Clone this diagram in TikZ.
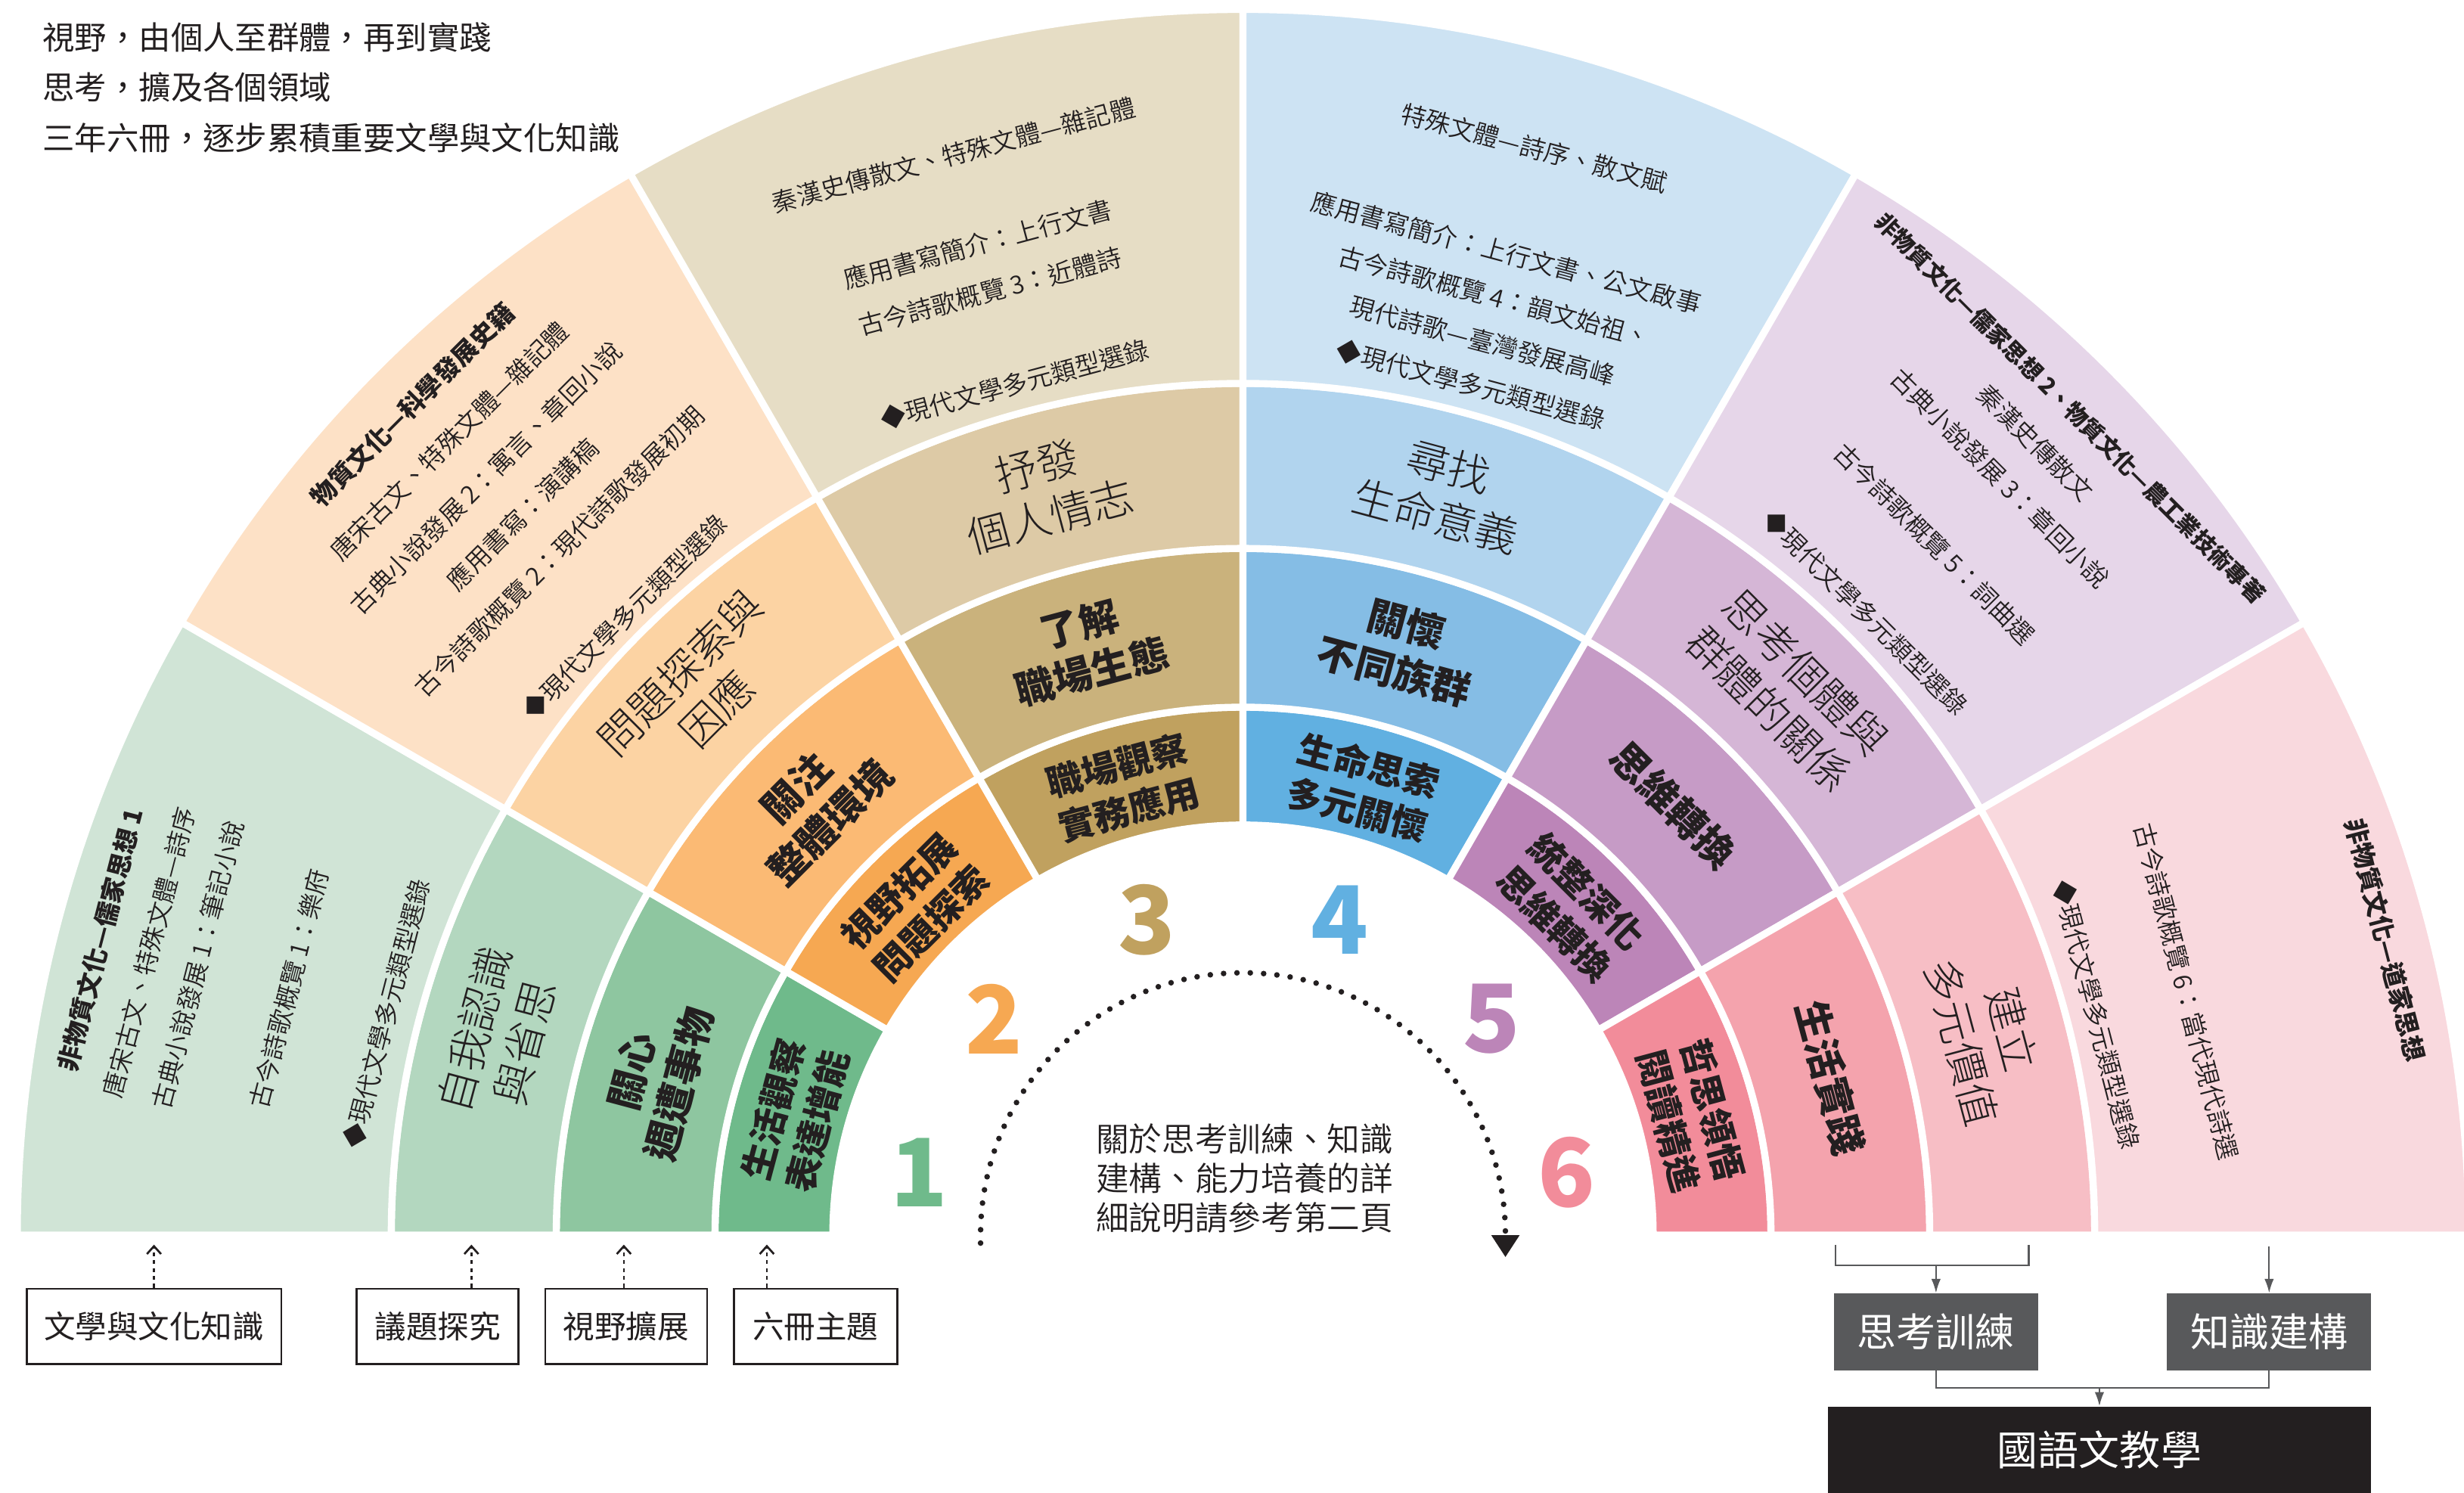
\documentclass[tikz,border=0pt]{standalone}
\usepackage{fontspec}
\setmainfont{Noto Sans CJK TC}
\newfontfamily\lightfont{Noto Sans CJK TC Light}
\newfontfamily\demifont{Noto Sans CJK TC DemiLight}
\usetikzlibrary{arrows.meta}

\definecolor{ink}{HTML}{231F20}
\definecolor{boxgray}{HTML}{58595B}
\definecolor{s1-0}{HTML}{6FBA8B}
\definecolor{s1-1}{HTML}{8EC6A0}
\definecolor{s1-2}{HTML}{B3D7BF}
\definecolor{s1-3}{HTML}{D0E4D6}
\definecolor{s2-0}{HTML}{F6A852}
\definecolor{s2-1}{HTML}{FBBA74}
\definecolor{s2-2}{HTML}{FCD3A3}
\definecolor{s2-3}{HTML}{FDE1C6}
\definecolor{s3-0}{HTML}{C0A15F}
\definecolor{s3-1}{HTML}{CAB27C}
\definecolor{s3-2}{HTML}{DDCAA6}
\definecolor{s3-3}{HTML}{E6DDC5}
\definecolor{s4-0}{HTML}{61B0E1}
\definecolor{s4-1}{HTML}{85BDE5}
\definecolor{s4-2}{HTML}{B1D4EE}
\definecolor{s4-3}{HTML}{CDE3F3}
\definecolor{s5-0}{HTML}{BC85B8}
\definecolor{s5-1}{HTML}{C69BC6}
\definecolor{s5-2}{HTML}{D5B6D6}
\definecolor{s5-3}{HTML}{E6D6E9}
\definecolor{s6-0}{HTML}{F28C9A}
\definecolor{s6-1}{HTML}{F4A3AD}
\definecolor{s6-2}{HTML}{F7BEC5}
\definecolor{s6-3}{HTML}{F9D9DE}

\tikzset{
  ring/.style={draw=white, line width=4.5pt, line join=round},
  core/.style={font=\bfseries\fontsize{23}{29}\selectfont, text=ink, align=center},
  focus/.style={font=\bfseries\fontsize{25}{31}\selectfont, text=ink, align=center},
  theme/.style={font=\lightfont\fontsize{27}{33}\selectfont, text=ink, align=center},
  topics/.style={font=\demifont\fontsize{16}{32}\selectfont, text=ink, align=center},
  numeral/.style={font=\bfseries\fontsize{60}{60}\selectfont},
  tagbox/.style={draw=ink, line width=1.2pt, minimum height=48pt, inner sep=0pt, text=ink, font=\fontsize{20}{20}\selectfont},
  darkbox/.style={fill=boxgray, minimum width=130pt, minimum height=49pt, inner sep=0pt, text=white, font=\fontsize{25}{25}\selectfont},
  feed/.style={draw=ink, line width=1.3pt, dash pattern=on 2.5pt off 2.5pt, -{Straight Barb[length=5pt,width=9pt]}},
  flow/.style={draw=boxgray, line width=1pt},
  flowarrow/.style={flow, -{Latex[length=9pt,width=6pt]}}
}

\begin{document}
\begin{tikzpicture}[x=1pt,y=1pt]
\useasboundingbox (-791,-164) rectangle (777,786);
\def\rcore{295}
\def\rfocus{387}
\def\rtheme{490}

\foreach \k in {1,...,6}{
  \pgfmathsetmacro\from{210-30*\k}
  \pgfmathsetmacro\to{180-30*\k}
  \foreach \i/\ri/\ro in {0/261/336,1/336/437,2/437/542,3/542/780}
    \filldraw[ring, fill=s\k-\i] (\from:\ri) arc (\from:\to:\ri) -- (\to:\ro) arc (\to:\from:\ro) -- cycle;
}

\foreach \a/\t in {165/{生活觀察\\表達增能}, 135/{視野拓展\\問題探索}, 105/{職場觀察\\實務應用}, 75/{生命思索\\多元關懷}, 45/{統整深化\\思維轉換}, 15/{哲思領悟\\閱讀精進}}
  \node[core, rotate=\a-90] (core\a) at (\a:\rcore) {\t};

\foreach \a/\t in {165/{關心\\週遭事物}, 135/{關注\\整體環境}, 105/{了解\\職場生態}, 75/{關懷\\不同族群}, 45/{思維轉換}, 15/{生活實踐}}
  \node[focus, rotate=\a-90] (focus\a) at (\a:\rfocus) {\t};

\foreach \a/\t in {165/{自我認識\\與省思}, 135/{問題探索與\\因應}, 105/{抒發\\個人情志}, 75/{尋找\\生命意義}, 45/{思考個體與\\群體的關係}, 15/{建立\\多元價值}}
  \node[theme, rotate=\a-90] (theme\a) at (\a:\rtheme) {\t};

\node[topics, rotate=75.5] (topic1) at (165.5:657) {{\normalfont\bfseries 非物質文化—儒家思想 1}\\唐宋古文、特殊文體—詩序\\古典小說發展 1：筆記小說\\[28pt]古今詩歌概覽 1：樂府\\[32pt]◆現代文學多元類型選錄};
\node[topics, rotate=45, font=\demifont\fontsize{16}{33}\selectfont] (topic2) at (135:652) {{\normalfont\bfseries 物質文化—科學發展史籍}\\唐宋古文、特殊文體—雜記體\\古典小說發展 2：寓言、章回小說\\應用書寫：演講稿\\古今詩歌概覽 2：現代詩歌發展初期\\[26pt]◆現代文學多元類型選錄};
\node[topics, rotate=15, font=\demifont\fontsize{16}{31}\selectfont] (topic3) at (105:636) {秦漢史傳散文、特殊文體—雜記體\\[28pt]應用書寫簡介：上行文書\\古今詩歌概覽 3：近體詩\\[30pt]◆現代文學多元類型選錄};
\node[topics, rotate=-15, font=\demifont\fontsize{16}{29}\selectfont] (topic4) at (75:638) {特殊文體—詩序、散文賦\\[40pt]應用書寫簡介：上行文書、公文啟事\\古今詩歌概覽 4：韻文始祖、\\現代詩歌—臺灣發展高峰\\◆現代文學多元類型選錄};
\node[topics, rotate=-45] (topic5) at (45:652) {{\normalfont\bfseries\fontsize{14.5}{32}\selectfont 非物質文化—儒家思想 2、物質文化—農工業技術專著}\\秦漢史傳散文\\古典小說發展 3：章回小說\\[27pt]古今詩歌概覽 5：詞曲選\\[30pt]◆現代文學多元類型選錄};
\node[topics, rotate=-75.5, font=\demifont\fontsize{16}{30}\selectfont] (topic6) at (14.5:656) {{\normalfont\bfseries 非物質文化—道家思想}\\[101pt]古今詩歌概覽 6：當代現代詩選\\[29pt]◆現代文學多元類型選錄};

\foreach \n/\a in {1/169, 2/139, 3/107, 4/73, 5/41, 6/11}
  \node[numeral, text=s\n-0] (num\n) at (\a:210) {\n};

\draw[ink, line width=3.6pt, dash pattern=on 0pt off 8.5pt, line cap=round, -{Triangle[length=14pt,width=17pt]}] (-167,-5) -- (-167,0) arc (180:0:167) -- (167,-14);
\node[font=\demifont\fontsize{21}{25}\selectfont, text=ink, align=center] (note) at (1,36) {關於思考訓練、知識\\建構、能力培養的詳\\細說明請參考第二頁};

\node[font=\fontsize{20.4}{32}\selectfont, text=ink, align=left, anchor=north west, inner sep=0pt] (motto) at (-764,772) {視野，由個人至群體，再到實踐\\思考，擴及各個領域\\三年六冊，逐步累積重要文學與文化知識};

\node[tagbox, minimum width=162pt] (lit) at (-693,-58) {文學與文化知識};
\node[tagbox, minimum width=103pt] (issue) at (-512.5,-58) {議題探究};
\node[tagbox, minimum width=103pt] (view) at (-392.5,-58) {視野擴展};
\node[tagbox, minimum width=104pt] (book) at (-272,-58) {六冊主題};
\coordinate (footA) at (-693,-6);
\coordinate (footB) at (-491,-6);
\coordinate (footC) at (-394,-6);
\coordinate (footD) at (-303,-6);
\draw[feed] (footA |- lit.north) -- (footA);
\draw[feed] (footB |- issue.north) -- (footB);
\draw[feed] (footC |- view.north) -- (footC);
\draw[feed] (footD |- book.north) -- (footD);

\node[darkbox] (think) at (441,-61.5) {思考訓練};
\node[darkbox] (know) at (653,-61.5) {知識建構};
\node[fill=ink, minimum width=346pt, minimum height=55pt, inner sep=0pt, text=white, font=\fontsize{26}{26}\selectfont] (teach) at (545,-136.5) {國語文教學};
\coordinate (lifeFoot) at (377,-6);
\coordinate (valueFoot) at (500,-6);
\coordinate (cultFoot) at (655,-7);
\coordinate (brace) at (441,-19);
\coordinate (join) at (545,-97);
\draw[flow] (lifeFoot) |- (brace) -| (valueFoot);
\draw[flowarrow] (brace) -- (think.north);
\draw[flowarrow] (know.north |- cultFoot) -- (know.north);
\draw[flow] (think.south) |- (join) -| (know.south);
\draw[flowarrow] (join) -- (teach.north);
\end{tikzpicture}
\end{document}
